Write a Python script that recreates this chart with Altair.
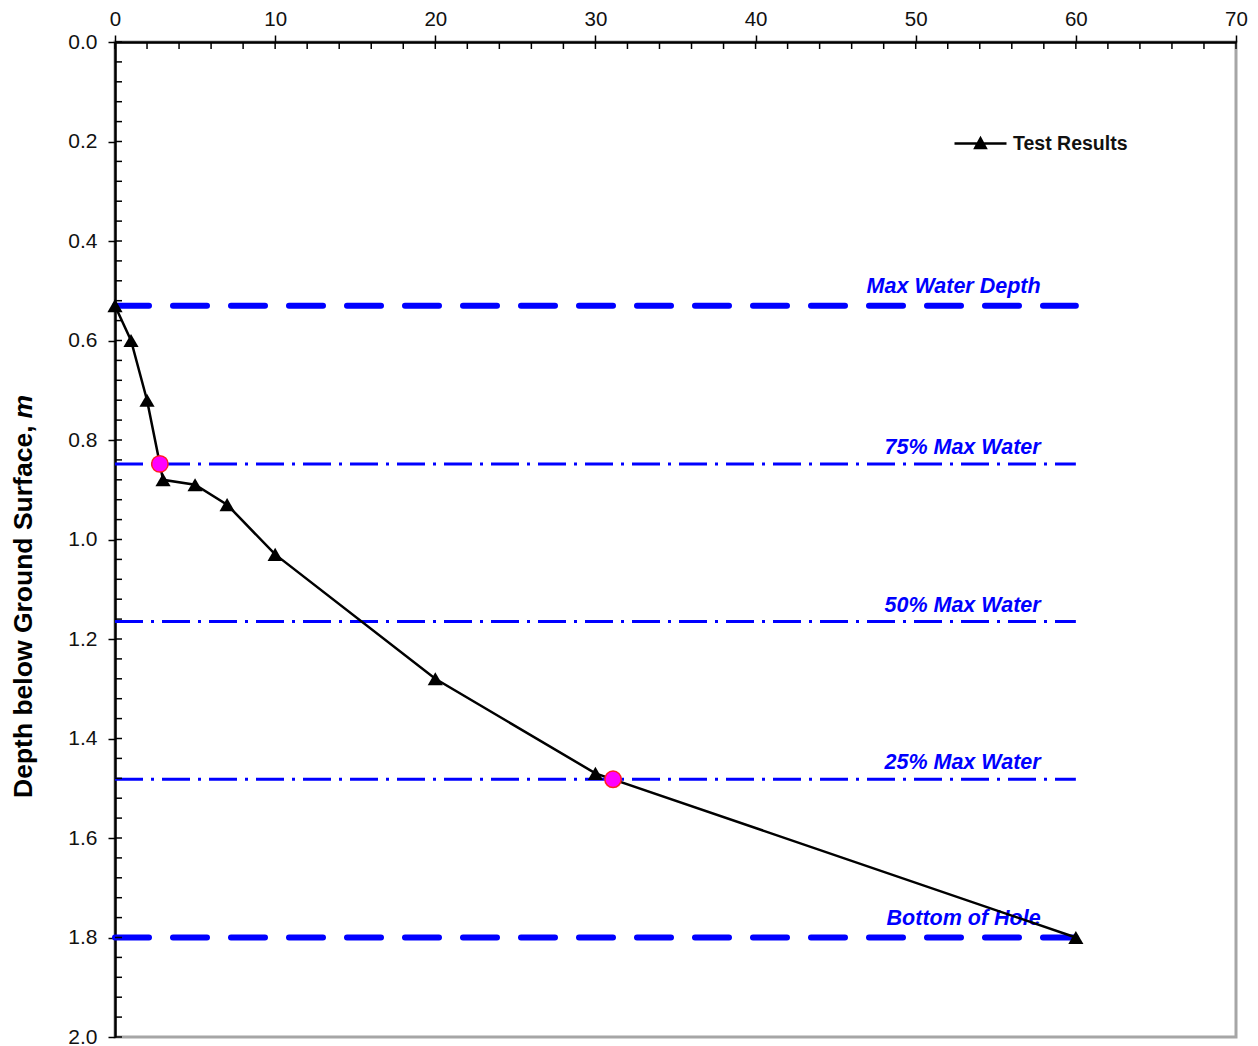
import altair as alt
import pandas as pd

# ---- data ----
time_vals = [0, 1, 2, 3, 5, 7, 10, 20, 30, 60]
depth_vals = [0.53, 0.60, 0.72, 0.88, 0.89, 0.93, 1.03, 1.28, 1.47, 1.80]

marker_time = [2.8, 31.1]
marker_depth = [0.848, 1.482]

ref_labels = ["Max Water Depth", "75% Max Water", "50% Max Water", "25% Max Water", "Bottom of Hole"]
ref_depths = [0.53, 0.848, 1.165, 1.482, 1.80]
ref_kinds = ["main", "level", "level", "level", "main"]
ref_start = [0, 0, 0, 0, 0]
ref_end = [60, 60, 60, 60, 60]
ref_label_x = [57.8, 57.8, 57.8, 57.8, 57.8]

x_ticks = [0, 10, 20, 30, 40, 50, 60, 70]
y_ticks = [0.0, 0.2, 0.4, 0.6, 0.8, 1.0, 1.2, 1.4, 1.6, 1.8, 2.0]
x_minor = [0, 2, 4, 6, 8, 10, 12, 14, 16, 18, 20, 22, 24, 26, 28, 30, 32, 34, 36, 38, 40,
           42, 44, 46, 48, 50, 52, 54, 56, 58, 60, 62, 64, 66, 68, 70]
y_minor = [round(i * 0.04, 2) for i in range(51)]

series_name = ["Test Results"] * len(time_vals)

FONT = "Liberation Sans"
BLUE = "#0000FF"

df = pd.DataFrame({"t": time_vals, "d": depth_vals, "s": series_name})
dm = pd.DataFrame({"t": marker_time, "d": marker_depth})
dr = pd.DataFrame({"label": ref_labels, "d": ref_depths, "kind": ref_kinds,
                   "x0": ref_start, "x1": ref_end, "lx": ref_label_x})
dxm = pd.DataFrame({"v": x_minor})
dym = pd.DataFrame({"v": y_minor})

xs = alt.Scale(domain=[0, 70], nice=False, zero=False)
ys = alt.Scale(domain=[0, 2], reverse=True, nice=False, zero=False)

x_axis = alt.Axis(orient="top", values=x_ticks, title=None, grid=False,
                  tickSize=7, tickWidth=1.5, tickColor="black",
                  domainColor="black", domainWidth=2.5,
                  labelFont=FONT, labelFontSize=20.5, labelColor="#111111",
                  labelPadding=6, labelFlush=False, format="d")
y_axis = alt.Axis(orient="left", values=y_ticks, title=None, grid=False,
                  tickSize=7, tickWidth=1.5, tickColor="black",
                  domainColor="black", domainWidth=2.5,
                  labelFont=FONT, labelFontSize=21, labelColor="#111111",
                  labelPadding=11, labelFlush=False, format=".1f")


def X(field, **kw):
    return alt.X(field, type="quantitative", scale=xs, axis=x_axis, **kw)


def Y(field, **kw):
    return alt.Y(field, type="quantitative", scale=ys, axis=y_axis, **kw)


# inward minor/major ticks
x_in_ticks = alt.Chart(dxm).mark_rule(color="black", strokeWidth=1.5).encode(
    x=X("v"), y=alt.value(0), y2=alt.value(7))
y_in_ticks = alt.Chart(dym).mark_rule(color="black", strokeWidth=1.5).encode(
    y=Y("v"), x=alt.value(0), x2=alt.value(7))

# reference lines
ref_main = alt.Chart(dr).transform_filter(alt.datum.kind == "main").mark_rule(
    color=BLUE, strokeWidth=6, strokeDash=[34, 24], strokeCap="round").encode(
    x=X("x0"), x2="x1", y=Y("d"))
ref_level = alt.Chart(dr).transform_filter(alt.datum.kind == "level").mark_rule(
    color=BLUE, strokeWidth=3, strokeDash=[28, 8, 3, 8]).encode(
    x=X("x0"), x2="x1", y=Y("d"))
ref_text_main = alt.Chart(dr).transform_filter(alt.datum.kind == "main").mark_text(
    color=BLUE, font=FONT, fontSize=21.5, fontWeight="bold", fontStyle="italic",
    align="right", baseline="alphabetic", dy=-13).encode(
    x=X("lx"), y=Y("d"), text="label")
ref_text_level = alt.Chart(dr).transform_filter(alt.datum.kind == "level").mark_text(
    color=BLUE, font=FONT, fontSize=21.5, fontWeight="bold", fontStyle="italic",
    align="right", baseline="alphabetic", dy=-10).encode(
    x=X("lx"), y=Y("d"), text="label")

color = alt.Color("s:N", scale=alt.Scale(domain=["Test Results"], range=["black"]),
                  legend=alt.Legend(
                      title=None, orient="none", legendX=838, legendY=74,
                      symbolType="M-1,0L1,0M-0.2,0.17L0,-0.2L0.2,0.17Z",
                      symbolSize=2704, symbolStrokeWidth=2.5,
                      symbolFillColor="black", symbolStrokeColor="black",
                      symbolOpacity=1,
                      labelFont=FONT, labelFontSize=19.5, labelFontWeight="bold",
                      labelColor="#111111", labelOffset=5, padding=0))

line = alt.Chart(df).mark_line(strokeWidth=2.5).encode(
    x=X("t"), y=Y("d"), color=color)
pts = alt.Chart(df).mark_point(shape="triangle-up", filled=True, size=230, opacity=1).encode(
    x=X("t"), y=Y("d"), color=color)

marks = alt.Chart(dm).mark_point(shape="circle", filled=True, size=270,
                                 fill="#FF00FF", stroke="#FF2020",
                                 strokeWidth=1.5, opacity=1).encode(
    x=X("t"), y=Y("d"))

title_df = pd.DataFrame({"a": [1]})
title_main = alt.Chart(title_df).mark_text(
    text="Depth below Ground Surface,", angle=270, font=FONT, fontSize=26.5,
    fontWeight="bold", align="left", baseline="middle", color="black").encode(
    x=alt.value(-91), y=alt.value(756))
title_m = alt.Chart(title_df).mark_text(
    text="m", angle=270, font=FONT, fontSize=26.5, fontWeight="bold",
    fontStyle="italic", align="right", baseline="middle", color="black").encode(
    x=alt.value(-91), y=alt.value(353))

chart = alt.layer(
    ref_main, ref_level, ref_text_main, ref_text_level, x_in_ticks, y_in_ticks,
    line, pts, marks, title_main, title_m
).properties(
    width=1121, height=995,
    autosize=alt.AutoSizeParams(type="none"),
    padding={"left": 107, "top": 34, "right": 14, "bottom": 10},
).configure_view(stroke="#a6a6a6", strokeWidth=3)

chart.save("out.html", embed_options={"renderer": "svg", "actions": False})
